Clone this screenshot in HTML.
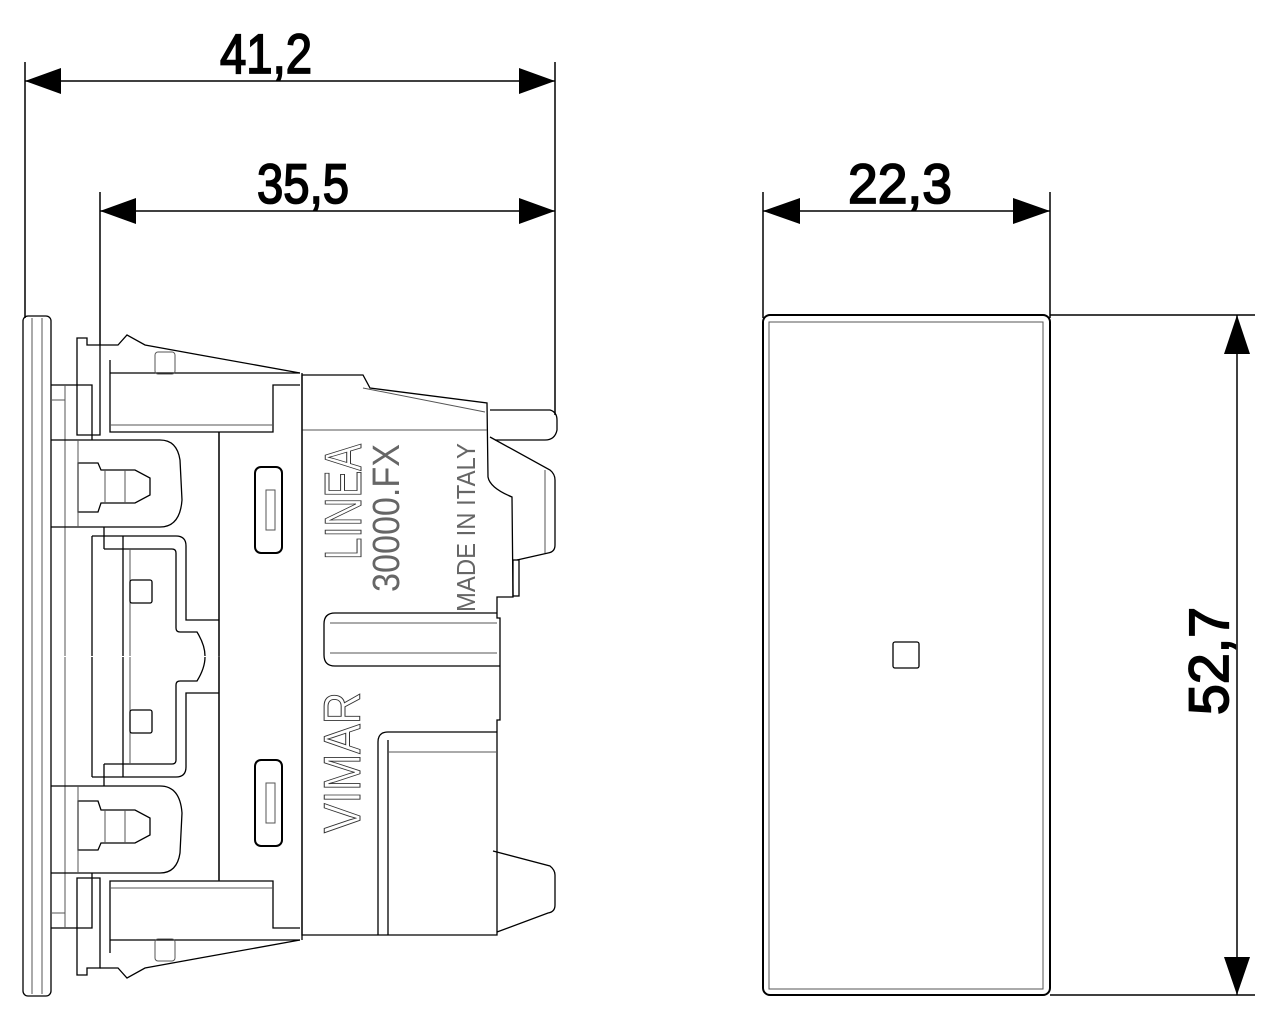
<!DOCTYPE html>
<html><head><meta charset="utf-8"><style>
html,body{margin:0;padding:0;background:#fff;width:1280px;height:1024px;overflow:hidden}
svg{display:block}
.d{font-family:"Liberation Sans",sans-serif;font-size:56px;fill:#000;stroke:#000;stroke-width:1.8}
</style></head><body>
<svg width="1280" height="1024" viewBox="0 0 1280 1024" xmlns="http://www.w3.org/2000/svg">
<g stroke="#000" stroke-width="1.5" fill="none">
<line x1="25" y1="62" x2="25" y2="318"/>
<line x1="555" y1="62" x2="555" y2="415"/>
<line x1="25" y1="81" x2="555" y2="81"/>
<line x1="100" y1="192" x2="100" y2="345"/>
<line x1="100" y1="211" x2="555" y2="211"/>
<line x1="763" y1="192" x2="763" y2="318"/>
<line x1="1050" y1="192" x2="1050" y2="318"/>
<line x1="763" y1="211" x2="1050" y2="211"/>
<line x1="1050" y1="315" x2="1255" y2="315"/>
<line x1="1050" y1="995" x2="1255" y2="995"/>
<line x1="1237" y1="315" x2="1237" y2="995"/>
</g>
<g fill="#000">
<polygon points="25,81 61,68 61,94"/>
<polygon points="555,81 519,68 519,94"/>
<polygon points="100,211 136,198 136,224"/>
<polygon points="555,211 519,198 519,224"/>
<polygon points="763,211 800,198 800,224"/>
<polygon points="1050,211 1013,198 1013,224"/>
<polygon points="1237,315 1224,354 1250,354"/>
<polygon points="1237,995 1224,957 1250,957"/>
</g>
<text class="d" x="220" y="73" textLength="92" lengthAdjust="spacingAndGlyphs">41,2</text>
<text class="d" x="257" y="203" textLength="92" lengthAdjust="spacingAndGlyphs">35,5</text>
<text class="d" x="848" y="203" textLength="104" lengthAdjust="spacingAndGlyphs">22,3</text>
<text class="d" transform="translate(1228,715) rotate(-90)" x="0" y="0" textLength="108" lengthAdjust="spacingAndGlyphs">52,7</text>

<g fill="none">
<rect x="763" y="315" width="287" height="680" rx="7" stroke="#000" stroke-width="2"/>
<rect x="769" y="322" width="274" height="667" stroke="#555" stroke-width="1"/>
<rect x="893" y="642" width="26" height="26" rx="2" stroke="#000" stroke-width="1.3"/>
</g>

<g fill="none" stroke="#000" stroke-width="1.3">
<rect x="23" y="316" width="28" height="680" rx="5"/>
<line x1="32" y1="318" x2="32" y2="994" stroke="#555" stroke-width="1"/>
<line x1="42" y1="318" x2="42" y2="994" stroke="#555" stroke-width="1"/>
<path d="M302,375 L363,375 L370,388 L487,403 L488,477 Q490,488 512,497 L513,597 L497,597 L497,618 L500,618 L500,720 L497,720 L497,935 L302,935 Z"/>
<path d="M363,388 L485,412" stroke="#555" stroke-width="1"/>
<line x1="302" y1="430" x2="487" y2="430" stroke="#555" stroke-width="1"/>
<path d="M497,613 L335,613 Q324,613 324,624 L324,655 Q324,666 335,666 L500,666"/>
<line x1="330" y1="623" x2="497" y2="623" stroke="#555" stroke-width="1"/>
<line x1="330" y1="653" x2="497" y2="653" stroke="#555" stroke-width="1"/>
<path d="M497,732 L388,732 Q378,732 378,742 L378,935"/>
<line x1="388" y1="740" x2="388" y2="935"/>
<line x1="388" y1="752" x2="497" y2="752" stroke="#555" stroke-width="1"/>
<path d="M490,437 L550,470 Q555,474 555,480 L555,545 Q555,552 548,553 L517,560"/>
<path d="M490,410 L550,410 Q557,412 557,420 L557,430 Q555,440 545,440 L495,440"/>
<path d="M493,851 L550,866 Q555,870 555,875 L555,905 Q555,912 548,913 L497,932"/>
<rect x="513" y="560" width="6" height="36"/>
<line x1="545" y1="470" x2="545" y2="553" stroke="#555" stroke-width="1"/>
</g>

<g id="half" fill="none" stroke="#000" stroke-width="1.3">
<path d="M51,385 L92,385 L92,440"/>
<line x1="65" y1="385" x2="65" y2="656" stroke="#555" stroke-width="1"/>
<line x1="52" y1="400" x2="65" y2="400" stroke="#555" stroke-width="1"/>
<path d="M77,338 L87,338 L87,345 L100,345 L100,435 L77,435 Z"/>
<path d="M100,345 L118,345 L127,335 L145,345 L200,355 L300,373"/>
<path d="M110,360 L110,432 L273,432 L273,385 L300,385"/>
<line x1="110" y1="373" x2="300" y2="373"/>
<line x1="110" y1="425" x2="273" y2="425" stroke="#555" stroke-width="1"/>
<rect x="155" y="352" width="20" height="22" rx="3" stroke="#555" stroke-width="1"/>
<path d="M51,440 L160,440 Q177,440 180,460 L182,500 Q180,527 160,527 L51,527"/>
<path d="M78,463 L98,463 L101,470 L135,470 L150,478 L150,495 L135,503 L101,503 L98,512 L78,512 Z"/>
<line x1="105" y1="470" x2="105" y2="503" stroke="#555" stroke-width="1"/>
<line x1="125" y1="470" x2="125" y2="503" stroke="#555" stroke-width="1"/>
<line x1="78" y1="440" x2="78" y2="527" stroke="#555" stroke-width="1"/>
<path d="M92,536 L176,536 Q186,536 186,546 L186,620 L219,620"/>
<path d="M104,549 L172,549 Q176,549 176,553 L176,628 Q176,632 180,632 L197,632 Q205,645 205,656"/>
<line x1="123" y1="536" x2="123" y2="656"/>
<line x1="130" y1="549" x2="130" y2="656" stroke="#555" stroke-width="1"/>
<rect x="130" y="580" width="22" height="23" rx="2"/>
<line x1="92" y1="536" x2="92" y2="656"/>
<line x1="104" y1="527" x2="104" y2="549"/>
<rect x="255" y="467" width="27" height="86" rx="6" stroke-width="2"/>
<rect x="266" y="490" width="9" height="40" stroke="#555" stroke-width="1"/>
<line x1="219" y1="440" x2="219" y2="656"/>
<line x1="219" y1="432" x2="219" y2="440"/>
</g>
<use href="#half" transform="translate(0,1313) scale(1,-1)"/>
<line x1="302" y1="373" x2="302" y2="940" stroke="#000" stroke-width="1.3"/>
<line x1="219" y1="432" x2="219" y2="880" stroke="#000" stroke-width="1.3"/>

<g font-family="Liberation Sans, sans-serif">
<text transform="translate(361,560) rotate(-90)" font-size="52" fill="#fff" stroke="#333" stroke-width="1" textLength="116" lengthAdjust="spacingAndGlyphs">LINEA</text>
<text transform="translate(399,592) rotate(-90)" font-size="38" fill="#666" textLength="148" lengthAdjust="spacingAndGlyphs">30000.FX</text>
<text transform="translate(475,612) rotate(-90)" font-size="26" fill="#666" textLength="169" lengthAdjust="spacingAndGlyphs">MADE IN ITALY</text>
<text transform="translate(360,833) rotate(-90)" font-size="52" fill="#fff" stroke="#333" stroke-width="1" textLength="141" lengthAdjust="spacingAndGlyphs">VIMAR</text>
</g>
</svg>
</body></html>
